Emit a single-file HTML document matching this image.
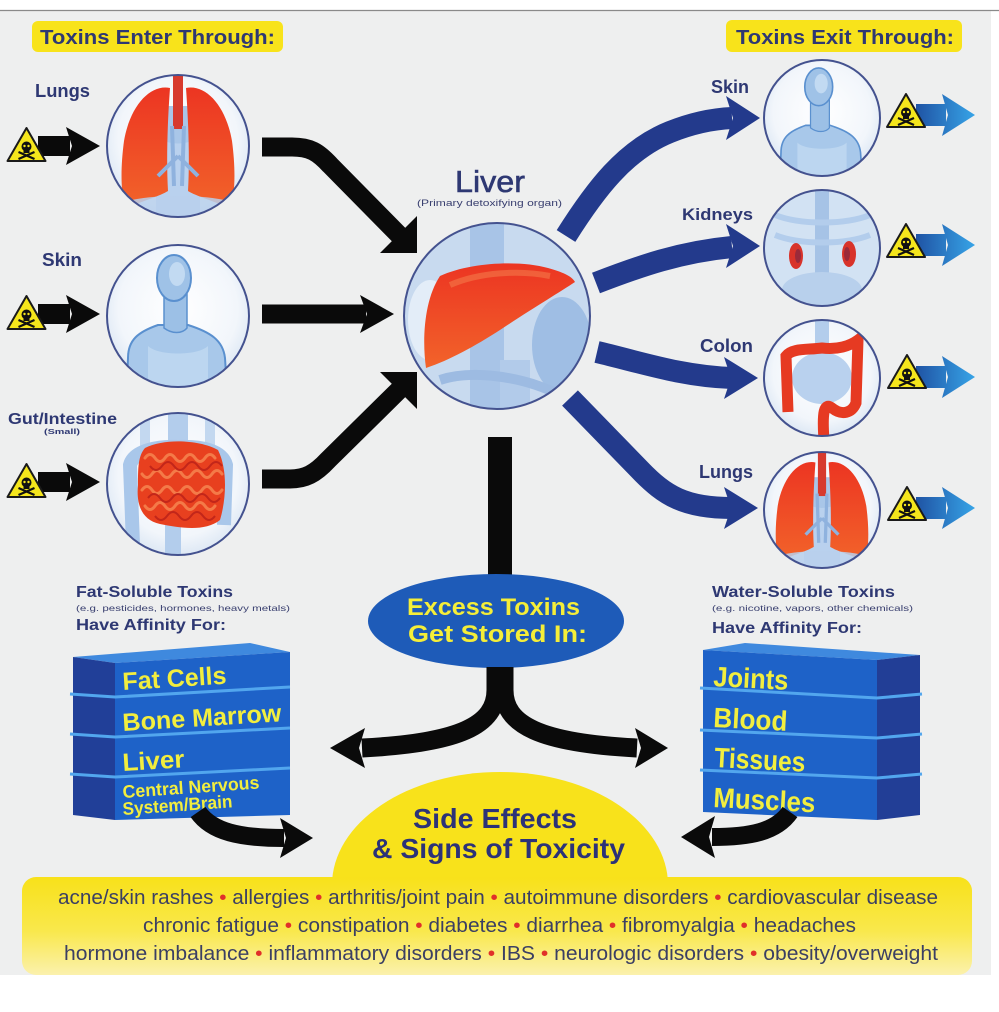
<!DOCTYPE html>
<html><head><meta charset="utf-8">
<style>
html,body{margin:0;padding:0;background:#fff;}
svg{display:block;}
text{font-family:"Liberation Sans",Arial,sans-serif;}
.lb{font-weight:bold;fill:#2e3873;}
</style></head><body>
<svg width="999" height="1012" viewBox="0 0 999 1012" xmlns="http://www.w3.org/2000/svg">
<defs>
 <radialGradient id="cbg" cx="50%" cy="45%" r="60%">
  <stop offset="0" stop-color="#ffffff"/><stop offset="0.7" stop-color="#f2f6fb"/><stop offset="1" stop-color="#d6e3f2"/>
 </radialGradient>
 <linearGradient id="red" x1="0" y1="0" x2="0" y2="1"><stop offset="0" stop-color="#ec3522"/><stop offset="1" stop-color="#f2632a"/></linearGradient>
 <linearGradient id="barr" gradientUnits="userSpaceOnUse" x1="915" y1="0" x2="976" y2="0"><stop offset="0" stop-color="#1f52a3"/><stop offset="1" stop-color="#37a5e8"/></linearGradient>
 <linearGradient id="ybox" x1="0" y1="0" x2="0" y2="1"><stop offset="0" stop-color="#f8e11a"/><stop offset="0.55" stop-color="#f9e84c"/><stop offset="1" stop-color="#fbf1ad"/></linearGradient>
 <clipPath id="c1"><circle cx="178" cy="146" r="71"/></clipPath>
 <clipPath id="c2"><circle cx="178" cy="316" r="71"/></clipPath>
 <clipPath id="c3"><circle cx="178" cy="484" r="71"/></clipPath>
 <clipPath id="cl"><circle cx="497" cy="316" r="93"/></clipPath>
 <clipPath id="r1"><circle cx="822" cy="118" r="58"/></clipPath>
 <clipPath id="r2"><circle cx="822" cy="248" r="58"/></clipPath>
 <clipPath id="r3"><circle cx="822" cy="378" r="58"/></clipPath>
 <clipPath id="r4"><circle cx="822" cy="510" r="58"/></clipPath>
 <g id="warn">
  <path d="M0,-17 L19,16 L-19,16 Z" fill="#f5e61c" stroke="#1a1a1a" stroke-width="2" stroke-linejoin="round"/>
  <circle cx="0" cy="1.5" r="5" fill="#111"/>
  <rect x="-3" y="4" width="6" height="4" fill="#111"/>
  <circle cx="-2" cy="1" r="1.2" fill="#f5e61c"/>
  <circle cx="2" cy="1" r="1.2" fill="#f5e61c"/>
  <path d="M-8,7 L8,14 M8,7 L-8,14" stroke="#111" stroke-width="2.2"/>
 </g>
 <g id="lungs">
  <rect x="-14" y="-40" width="28" height="120" fill="#a9c6e8"/>
  <path d="M-22,-10 C-10,0 10,0 22,-10 L22,70 L-22,70 Z" fill="#b9d1ee"/>
  <rect x="-5" y="-75" width="10" height="58" fill="#d73a2e"/>
  <path d="M-8,-58 C-28,-62 -48,-40 -54,-5 C-58,25 -57,50 -52,62 C-35,55 -18,50 -10,45 C-12,10 -10,-30 -8,-58 Z" fill="url(#red)"/>
  <path d="M8,-58 C28,-62 48,-40 54,-5 C58,25 57,50 52,62 C35,55 18,50 10,45 C12,10 10,-30 8,-58 Z" fill="url(#red)"/>
  <path d="M-6,-20 L-4,40 M6,-20 L4,40 M0,10 L-20,30 M0,10 L20,30" stroke="#8fb2de" stroke-width="4" fill="none"/>
  <ellipse cx="0" cy="62" rx="62" ry="12" fill="#b8d0ec" opacity="0.85"/>
 </g>
 <g id="body">
  <path d="M-52,90 L-50,42 C-50,24 -40,16 -20,9 L10,9 C32,16 45,24 47,42 L50,90 Z" fill="#a8c8ea" stroke="#5a90cf" stroke-width="2"/>
  <path d="M-30,30 C-20,40 20,40 30,30 L30,80 L-30,80 Z" fill="#bcd6f0"/>
  <path d="M-14,-22 L-14,12 C-6,18 4,18 9,12 L9,-22 Z" fill="#9cc0e6" stroke="#5a90cf" stroke-width="1.5"/>
  <ellipse cx="-4" cy="-38" rx="17" ry="23" fill="#9fc2e7" stroke="#5a90cf" stroke-width="2"/>
  <ellipse cx="-1" cy="-42" rx="8" ry="12" fill="#c2daf2"/>
 </g>
</defs>

<!-- background -->
<rect x="0" y="0" width="999" height="1012" fill="#ffffff"/>
<rect x="0" y="11" width="991" height="964" fill="#eeefef"/>
<line x1="0" y1="10.5" x2="999" y2="10.5" stroke="#8a8a8a" stroke-width="1.2"/>

<!-- headers -->
<rect x="32" y="21" width="251" height="31" rx="6" fill="#f8e31b"/>
<text x="40" y="44" font-size="20" class="lb" textLength="235" lengthAdjust="spacingAndGlyphs">Toxins Enter Through:</text>
<rect x="726" y="20" width="236" height="32" rx="6" fill="#f8e31b"/>
<text x="736" y="44" font-size="20" class="lb" textLength="218" lengthAdjust="spacingAndGlyphs">Toxins Exit Through:</text>

<!-- left labels -->
<text x="35" y="97" font-size="18" class="lb" textLength="55" lengthAdjust="spacingAndGlyphs">Lungs</text>
<text x="42" y="266" font-size="18" class="lb" textLength="40" lengthAdjust="spacingAndGlyphs">Skin</text>
<text x="8" y="424" font-size="16" class="lb" textLength="109" lengthAdjust="spacingAndGlyphs">Gut/Intestine</text>
<text x="44" y="434" font-size="7" class="lb" textLength="36" lengthAdjust="spacingAndGlyphs">(Small)</text>

<!-- left small arrows + warnings -->
<g fill="#0a0a0a">
 <rect x="38" y="136" width="32" height="20"/><polygon points="66,127 100,146 66,165 72,146"/>
 <rect x="38" y="304" width="32" height="20"/><polygon points="66,295 100,314 66,333 72,314"/>
 <rect x="38" y="472" width="32" height="20"/><polygon points="66,463 100,482 66,501 72,482"/>
</g>
<use href="#warn" x="26.5" y="145"/>
<use href="#warn" x="26.5" y="313"/>
<use href="#warn" x="26.5" y="481"/>

<!-- left circles -->
<circle cx="178" cy="146" r="71" fill="url(#cbg)"/>
<g clip-path="url(#c1)"><use href="#lungs" x="178" y="146"/></g>
<circle cx="178" cy="146" r="71" fill="none" stroke="#44528f" stroke-width="2"/>

<circle cx="178" cy="316" r="71" fill="url(#cbg)"/>
<g clip-path="url(#c2)"><use href="#body" x="178" y="316"/></g>
<circle cx="178" cy="316" r="71" fill="none" stroke="#44528f" stroke-width="2"/>

<circle cx="178" cy="484" r="71" fill="url(#cbg)"/>
<g clip-path="url(#c3)">
 <rect x="168" y="410" width="20" height="60" fill="#b3cdec"/>
 <rect x="140" y="410" width="10" height="50" fill="#c3d8f0"/>
 <rect x="205" y="410" width="10" height="50" fill="#c3d8f0"/>
 <path d="M133,545 L130,465 C134,450 160,446 178,447 C200,446 222,450 226,465 L224,525" stroke="#a9c7ea" stroke-width="14" fill="none"/>
 <rect x="165" y="520" width="16" height="40" fill="#b3cdec"/>
 <path d="M145,448 C165,438 200,440 218,450 C228,470 226,500 220,520 C205,532 180,528 160,524 C142,520 136,505 138,485 C138,468 138,456 145,448 Z" fill="#e8401f"/>
 <g stroke="#f47a48" stroke-width="3" fill="none" stroke-linecap="round">
  <path d="M145,458 q5,-7 10,0 t10,0 t10,0 t10,0 t10,0 t10,0 t10,0"/>
  <path d="M142,474 q5,7 10,0 t10,0 t10,0 t10,0 t10,0 t10,0 t10,0 t10,0"/>
  <path d="M142,490 q5,-7 10,0 t10,0 t10,0 t10,0 t10,0 t10,0 t10,0 t10,0"/>
  <path d="M145,506 q5,7 10,0 t10,0 t10,0 t10,0 t10,0 t10,0 t10,0"/>
 </g>
 <g stroke="#c2261a" stroke-width="2" fill="none">
  <path d="M150,466 q6,8 12,0 t12,0 t12,0 t12,0 t12,0 t12,0"/>
  <path d="M148,498 q6,-8 12,0 t12,0 t12,0 t12,0 t12,0 t12,0"/>
  <path d="M155,516 q6,8 12,0 t12,0 t12,0 t12,0 t12,0"/>
 </g>
</g>
<circle cx="178" cy="484" r="71" fill="none" stroke="#44528f" stroke-width="2"/>

<!-- black arrows to liver -->
<g stroke="#0a0a0a" stroke-width="19" fill="none">
 <path d="M262,147 L292,147 C310,147 318,152 330,165 L400,236"/>
 <path d="M262,314 L366,314"/>
 <path d="M262,479 L290,479 C305,479 315,474 328,460 L400,389"/>
</g>
<g fill="#0a0a0a">
 <polygon points="417,253 380,253 417,216"/>
 <polygon points="360,295 394,314 360,333 367,314"/>
 <polygon points="417,372 380,372 417,409"/>
</g>

<!-- Liver -->
<text x="455" y="192" font-size="31" fill="#2e3873" stroke="#2e3873" stroke-width="0.6" textLength="70" lengthAdjust="spacingAndGlyphs">Liver</text>
<text x="417" y="206" font-size="9" fill="#3a4070" textLength="145" lengthAdjust="spacingAndGlyphs">(Primary detoxifying organ)</text>
<circle cx="497" cy="316" r="93" fill="#c8daef"/>
<g clip-path="url(#cl)">
 <rect x="470" y="222" width="34" height="190" fill="#a8c4e7"/>
 <ellipse cx="562" cy="345" rx="30" ry="48" fill="#9fbee4"/>
 <ellipse cx="430" cy="320" rx="22" ry="40" fill="#e3edf8"/>
 <rect x="500" y="360" width="30" height="55" fill="#b2cbea"/>
 <path d="M440,380 C470,370 520,375 560,395" stroke="#9dbbe2" stroke-width="10" fill="none"/>
 <path d="M440,276 C470,262 520,260 548,268 C562,272 572,276 575,282 C560,292 530,310 500,330 C475,346 450,360 426,368 C422,340 424,300 440,276 Z" fill="url(#red)"/>
 <path d="M450,285 C480,272 520,270 550,276" stroke="#f47a4a" stroke-width="6" fill="none" opacity="0.6"/>
</g>
<circle cx="497" cy="316" r="93" fill="none" stroke="#44528f" stroke-width="2"/>

<!-- blue arrows -->
<g stroke="#233a8c" stroke-width="22" fill="none">
 <path d="M566,236 C595,190 625,150 670,132 C690,124 710,119 732,118"/>
 <path d="M596,283 C640,266 680,252 732,247"/>
 <path d="M597,352 C640,362 680,376 732,378"/>
 <path d="M570,398 L640,470 C665,496 685,508 732,508"/>
</g>
<g fill="#233a8c">
 <polygon points="726,96 760,118 726,140 733,118"/>
 <polygon points="726,224 760,246 726,268 733,246"/>
 <polygon points="724,357 758,378 724,399 731,378"/>
 <polygon points="724,487 758,508 724,529 731,508"/>
</g>

<!-- right labels -->
<text x="711" y="93" font-size="18" class="lb" textLength="38" lengthAdjust="spacingAndGlyphs">Skin</text>
<text x="682" y="220" font-size="17" class="lb" textLength="71" lengthAdjust="spacingAndGlyphs">Kidneys</text>
<text x="700" y="352" font-size="18" class="lb" textLength="53" lengthAdjust="spacingAndGlyphs">Colon</text>
<text x="699" y="478" font-size="18" class="lb" textLength="54" lengthAdjust="spacingAndGlyphs">Lungs</text>

<!-- right circles -->
<circle cx="822" cy="118" r="58" fill="url(#cbg)"/>
<g clip-path="url(#r1)"><use href="#body" transform="translate(822,118) scale(0.82)"/></g>
<circle cx="822" cy="118" r="58" fill="none" stroke="#44528f" stroke-width="2"/>

<circle cx="822" cy="248" r="58" fill="#d2e2f3"/>
<g clip-path="url(#r2)">
 <rect x="815" y="190" width="14" height="120" fill="#a6c3e6"/>
 <path d="M775,215 C800,225 845,225 870,215 M775,235 C800,245 845,245 870,235" stroke="#b3cdec" stroke-width="6" fill="none"/>
 <ellipse cx="822" cy="290" rx="40" ry="18" fill="#b8d0ec"/>
 <ellipse cx="796" cy="256" rx="7" ry="13" fill="#d8332a"/>
 <ellipse cx="849" cy="254" rx="7" ry="13" fill="#d8332a"/>
 <ellipse cx="798" cy="256" rx="3" ry="7" fill="#9a2a3a"/>
 <ellipse cx="847" cy="254" rx="3" ry="7" fill="#9a2a3a"/>
</g>
<circle cx="822" cy="248" r="58" fill="none" stroke="#44528f" stroke-width="2"/>

<circle cx="822" cy="378" r="58" fill="url(#cbg)"/>
<g clip-path="url(#r3)">
 <rect x="815" y="320" width="14" height="60" fill="#b3cdec"/>
 <ellipse cx="822" cy="378" rx="30" ry="26" fill="#b9d1ee"/>
 <path d="M788,412 L786,356 C792,348 807,350 822,348 C837,350 850,346 858,340 L856,403 C852,413 842,416 832,408 C824,402 822,412 824,440" stroke="#e63a22" stroke-width="11" fill="none"/>
</g>
<circle cx="822" cy="378" r="58" fill="none" stroke="#44528f" stroke-width="2"/>

<circle cx="822" cy="510" r="58" fill="url(#cbg)"/>
<g clip-path="url(#r4)"><use href="#lungs" transform="translate(822,510) scale(0.82)"/></g>
<circle cx="822" cy="510" r="58" fill="none" stroke="#44528f" stroke-width="2"/>

<!-- right small arrows + warnings -->
<g fill="url(#barr)">
 <rect x="916" y="104" width="30" height="22"/><polygon points="942,94 975,115 942,136 948,115"/>
 <rect x="916" y="234" width="30" height="22"/><polygon points="942,224 975,245 942,266 948,245"/>
 <rect x="916" y="366" width="30" height="22"/><polygon points="942,356 975,377 942,398 948,377"/>
 <rect x="916" y="497" width="30" height="22"/><polygon points="942,487 975,508 942,529 948,508"/>
</g>
<use href="#warn" x="906" y="111"/>
<use href="#warn" x="906" y="241"/>
<use href="#warn" x="907" y="372"/>
<use href="#warn" x="907" y="504"/>

<!-- stem and ellipse -->
<rect x="488" y="437" width="24" height="145" fill="#0a0a0a"/>
<ellipse cx="496" cy="621" rx="128" ry="47" fill="#1e5bb8"/>
<text x="407" y="615" font-size="24" font-weight="bold" fill="#f5ee38" textLength="173" lengthAdjust="spacingAndGlyphs">Excess Toxins</text>
<text x="408" y="642" font-size="24" font-weight="bold" fill="#f5ee38" textLength="179" lengthAdjust="spacingAndGlyphs">Get Stored In:</text>

<!-- Y arrows -->
<g stroke="#0a0a0a" stroke-width="19" fill="none">
 <path d="M496,667 L496,690 C496,725 460,743 362,748"/>
 <path d="M504,667 L504,690 C504,725 540,743 637,748"/>
</g>
<g fill="#0a0a0a">
 <polygon points="330,748 365,728 359,748 365,768"/>
 <polygon points="668,748 635,728 641,748 635,768"/>
</g>

<!-- fat-soluble -->
<text x="76" y="597" font-size="16" class="lb" textLength="157" lengthAdjust="spacingAndGlyphs">Fat-Soluble Toxins</text>
<text x="76" y="611" font-size="8.5" fill="#3a4070" textLength="214" lengthAdjust="spacingAndGlyphs">(e.g. pesticides, hormones, heavy metals)</text>
<text x="76" y="630" font-size="16" class="lb" textLength="150" lengthAdjust="spacingAndGlyphs">Have Affinity For:</text>

<!-- water-soluble -->
<text x="712" y="597" font-size="16" class="lb" textLength="183" lengthAdjust="spacingAndGlyphs">Water-Soluble Toxins</text>
<text x="712" y="611" font-size="8.5" fill="#3a4070" textLength="201" lengthAdjust="spacingAndGlyphs">(e.g. nicotine, vapors, other chemicals)</text>
<text x="712" y="633" font-size="16" class="lb" textLength="150" lengthAdjust="spacingAndGlyphs">Have Affinity For:</text>

<!-- left stack -->
<polygon points="73,657 115,663 290,652 250,643" fill="#3f89de"/>
<polygon points="73,657 115,663 115,820 73,815" fill="#213f98"/>
<polygon points="115,663 290,652 290,815 115,820" fill="#1e62c8"/>
<g stroke="#52a6ee" stroke-width="3" fill="none">
 <polyline points="70,694 115,697 290,687"/>
 <polyline points="70,734 115,737 290,728"/>
 <polyline points="70,774 115,777 290,768"/>
</g>
<g font-weight="bold" fill="#f2ee3e">
 <text x="123" y="690" font-size="25" transform="rotate(-3.5 123 690)" textLength="104" lengthAdjust="spacingAndGlyphs">Fat Cells</text>
 <text x="123" y="731" font-size="25" transform="rotate(-3.5 123 731)" textLength="159" lengthAdjust="spacingAndGlyphs">Bone Marrow</text>
 <text x="123" y="771" font-size="25" transform="rotate(-3.5 123 771)" textLength="62" lengthAdjust="spacingAndGlyphs">Liver</text>
 <text x="123" y="798" font-size="18" transform="rotate(-4 123 798)" textLength="137" lengthAdjust="spacingAndGlyphs">Central Nervous</text>
 <text x="123" y="815" font-size="18" transform="rotate(-4 123 815)" textLength="110" lengthAdjust="spacingAndGlyphs">System/Brain</text>
</g>

<!-- right stack -->
<polygon points="703,650 877,660 920,655 745,643" fill="#3f89de"/>
<polygon points="877,660 920,655 920,815 877,820" fill="#223e96"/>
<polygon points="703,650 877,660 877,820 703,812" fill="#1e62c8"/>
<g stroke="#52a6ee" stroke-width="3" fill="none">
 <polyline points="700,688 877,698 922,694"/>
 <polyline points="700,730 877,738 922,734"/>
 <polyline points="700,770 877,778 922,774"/>
</g>
<g font-weight="bold" fill="#f2ee3e">
 <text x="713" y="686" font-size="28" transform="rotate(3 713 686)" textLength="75" lengthAdjust="spacingAndGlyphs">Joints</text>
 <text x="713" y="727" font-size="28" transform="rotate(3 713 727)" textLength="74" lengthAdjust="spacingAndGlyphs">Blood</text>
 <text x="714" y="767" font-size="28" transform="rotate(3 714 767)" textLength="91" lengthAdjust="spacingAndGlyphs">Tissues</text>
 <text x="713" y="807" font-size="28" transform="rotate(3 713 807)" textLength="102" lengthAdjust="spacingAndGlyphs">Muscles</text>
</g>

<!-- small bottom arrows -->
<g stroke="#0a0a0a" stroke-width="18" fill="none">
 <path d="M198,812 C212,832 240,838 284,838"/>
 <path d="M790,812 C776,832 750,837 712,837"/>
</g>
<g fill="#0a0a0a">
 <polygon points="313,838 280,818 286,838 280,858"/>
 <polygon points="681,837 715,816 709,837 715,858"/>
</g>

<!-- side effects -->
<path d="M332,885 A168,113 0 0 1 668,885 Z" fill="#f8e21b"/>
<rect x="22" y="877" width="950" height="98" rx="14" fill="url(#ybox)"/>
<text x="413" y="828" font-size="28" font-weight="bold" fill="#2c3278" textLength="164" lengthAdjust="spacingAndGlyphs">Side Effects</text>
<text x="372" y="858" font-size="28" font-weight="bold" fill="#2c3278" textLength="253" lengthAdjust="spacingAndGlyphs">&amp; Signs of Toxicity</text>

<g font-size="20" fill="#3b3f63">
 <text x="58" y="904" textLength="880" lengthAdjust="spacingAndGlyphs">acne/skin rashes <tspan fill="#e0302a">•</tspan> allergies <tspan fill="#e0302a">•</tspan> arthritis/joint pain <tspan fill="#e0302a">•</tspan> autoimmune disorders <tspan fill="#e0302a">•</tspan> cardiovascular disease</text>
 <text x="143" y="932" textLength="713" lengthAdjust="spacingAndGlyphs">chronic fatigue <tspan fill="#e0302a">•</tspan> constipation <tspan fill="#e0302a">•</tspan> diabetes <tspan fill="#e0302a">•</tspan> diarrhea <tspan fill="#e0302a">•</tspan> fibromyalgia <tspan fill="#e0302a">•</tspan> headaches</text>
 <text x="64" y="960" textLength="874" lengthAdjust="spacingAndGlyphs">hormone imbalance <tspan fill="#e0302a">•</tspan> inflammatory disorders <tspan fill="#e0302a">•</tspan> IBS <tspan fill="#e0302a">•</tspan> neurologic disorders <tspan fill="#e0302a">•</tspan> obesity/overweight</text>
</g>
</svg>
</body></html>
